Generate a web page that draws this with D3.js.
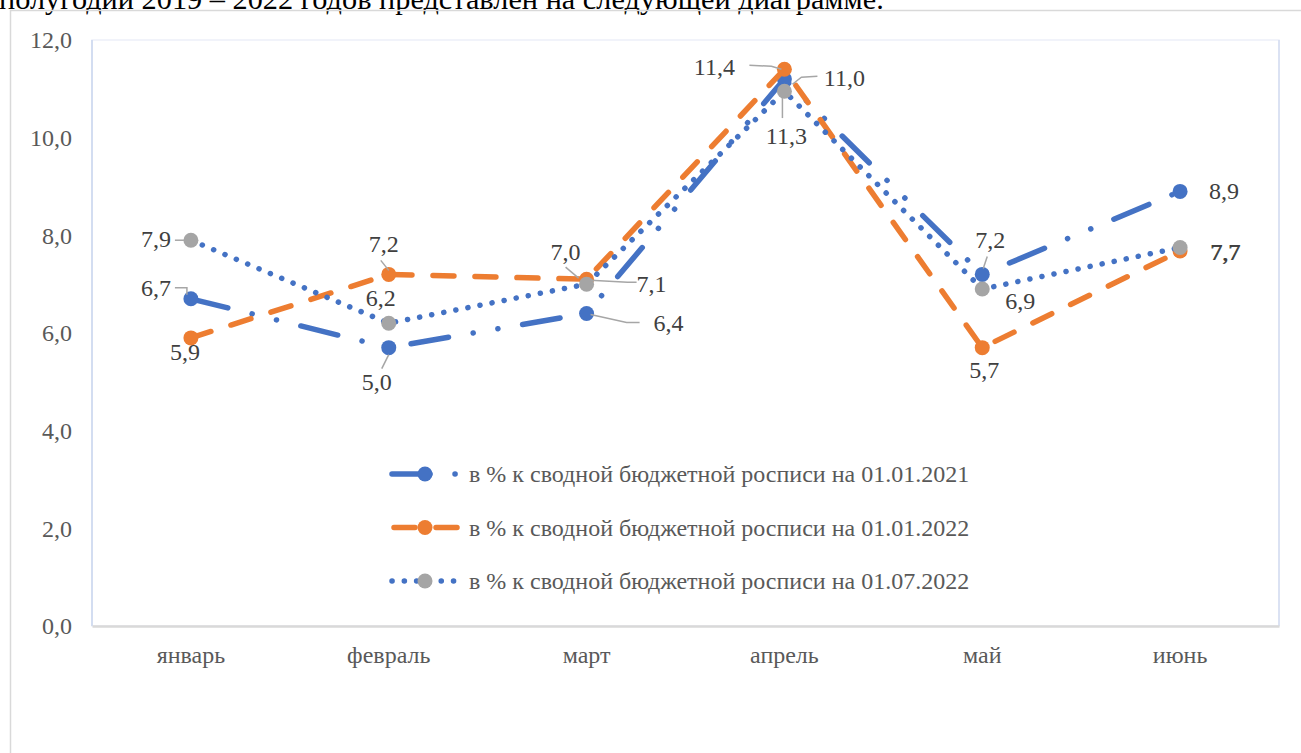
<!DOCTYPE html>
<html><head><meta charset="utf-8">
<script src="https://cdn.jsdelivr.net/npm/d3@7"></script>
<style>
html,body{margin:0;padding:0;background:#fff;overflow:hidden;}
svg text{font-family:"Liberation Serif","Times New Roman",serif;}
</style></head>
<body>
<svg id="chart" width="1301" height="753"></svg>
<script>
// ---------- data ----------
const months = ["январь","февраль","март","апрель","май","июнь"];
const seriesNames = [
  "в % к сводной бюджетной росписи на 01.01.2021",
  "в % к сводной бюджетной росписи на 01.01.2022",
  "в % к сводной бюджетной росписи на 01.07.2022"
];
const s1Values = [6.7, 5.7, 6.4, 11.2, 7.2, 8.9];
const s1Labels = ["6,7","5,0","6,4","11,3","7,2","8,9"];
const s2Values = [5.9, 7.2, 7.1, 11.4, 5.7, 7.68];
const s2Labels = ["5,9","7,2","7,1","11,4","5,7","7,7"];
const s3Values = [7.9, 6.2, 7.0, 10.95, 6.9, 7.75];
const s3Labels = ["7,9","6,2","7,0","11,0","6,9","7,7"];
const yTicks = [0, 2, 4, 6, 8, 10, 12];
const yTickLabels = ["0,0","2,0","4,0","6,0","8,0","10,0","12,0"];
const introText = "полугодии 2019 – 2022 годов представлен на следующей диаграмме.";

// ---------- layout / style ----------
const W = 1301, H = 753;
const plot = {left: 92, right: 1279, top: 40, bottom: 626};
const FS = 24;
const styles = [
  {line: "#4472C4", marker: "#4472C4", dash: "38,25,0.1,25,0.1,25", width: 5.5},
  {line: "#ED7D31", marker: "#ED7D31", dash: "21,21", width: 5.5},
  {line: "#4472C4", marker: "#A5A5A5", dash: "0.1,12.2", width: 5.5}
];
// label placement relative to point: [dx, dy, leader points]
const labelLayout = [
  [[-35,-11,[[-16,-11],[-4,-11],[-4,-4]]],[-12,34,[[-7,21],[0,7]]],[82,10,[[4,1],[40,9],[53,9]]],
   [2,57,[[-2,19],[-2,39]]],[8,-34,[[5,-18],[1,-6]]],[44,0,null]],
  [[-6,14,null],[-5,-30,[[-8,-14],[0,-4]]],[65,5,[[4,1],[41,3],[50,3]]],
   [-70,-2,[[-35,-4],[-13,-3],[-3,0]]],[2,22,null],[45,1,null]],
  [[-35,-1,[[-16,0],[-7,0]]],[-8,-25,null],[-21,-32,[[-21,-17],[-8,-6]]],
   [60,-13,[[8,-7],[17,-14],[33,-15]]],[38,12,null],[45.7,4.4,null]]
];

const svg = d3.select("#chart");
svg.append("rect").attr("width", W).attr("height", H).attr("fill", "#fff");

// intro text (cut off at top, as in the source)
svg.append("text").attr("x", -1).attr("y", 9)
  .attr("font-size", 30.3).attr("fill", "#000").text(introText);

// outer frame
svg.append("path").attr("d", `M10.5,${H} V10.5 H${W}`)
  .attr("fill", "none").attr("stroke", "#d9d9d9").attr("stroke-width", 1.5);

// scales
const x = d3.scaleBand().domain(months).range([plot.left, plot.right]).padding(0);
const y = d3.scaleLinear().domain([0, 12]).range([plot.bottom, plot.top]);
const cx = m => x(m) + x.bandwidth() / 2;

// plot area border
svg.append("rect").attr("x", plot.left).attr("y", plot.top)
  .attr("width", plot.right - plot.left).attr("height", plot.bottom - plot.top)
  .attr("fill", "none").attr("stroke", "#edf0f9").attr("stroke-width", 1.5);
svg.append("line").attr("x1", plot.left).attr("x2", plot.left)
  .attr("y1", plot.top).attr("y2", plot.bottom).attr("stroke", "#c9d6ee").attr("stroke-width", 1.5);
svg.append("line").attr("x1", plot.right).attr("x2", plot.right)
  .attr("y1", plot.top).attr("y2", plot.bottom).attr("stroke", "#d3ddf0").attr("stroke-width", 1.5);

// y axis
const yAxis = d3.axisLeft(y).tickValues(yTicks)
  .tickFormat((d, i) => yTickLabels[i]).tickSize(0).tickPadding(20);
const gy = svg.append("g").attr("transform", `translate(${plot.left},0)`).call(yAxis);
gy.select(".domain").remove();
gy.selectAll("text").attr("font-size", FS).attr("fill", "#595959")
  .attr("font-family", "Liberation Serif, Times New Roman, serif");

// x axis
const xAxis = d3.axisBottom(x).tickSize(0).tickPadding(20);
const gx = svg.append("g").attr("transform", `translate(0,${plot.bottom})`).call(xAxis);
gx.select(".domain").attr("stroke", "#d9d9d9").attr("stroke-width", 2.5);
gx.selectAll("text").attr("font-size", FS).attr("fill", "#595959")
  .attr("font-family", "Liberation Serif, Times New Roman, serif");

// series
const allValues = [s1Values, s2Values, s3Values];
const allLabels = [s1Labels, s2Labels, s3Labels];
const line = d3.line().x(d => cx(d.m)).y(d => y(d.v));

allValues.forEach((vals, si) => {
  const st = styles[si];
  const pts = vals.map((v, i) => ({m: months[i], v}));
  svg.append("path").datum(pts).attr("d", line)
    .attr("fill", "none").attr("stroke", st.line).attr("stroke-width", st.width)
    .attr("stroke-dasharray", st.dash).attr("stroke-linecap", "round").attr("stroke-linejoin", "round");
  svg.append("g").selectAll("circle").data(pts).join("circle")
    .attr("cx", d => cx(d.m)).attr("cy", d => y(d.v)).attr("r", 7.5)
    .attr("fill", st.marker);
});

// data labels
allValues.forEach((vals, si) => {
  vals.forEach((v, i) => {
    const px = cx(months[i]), py = y(v);
    const [dx, dy, leader] = labelLayout[si][i];
    if (leader) {
      svg.append("path").attr("d", d3.line()(leader.map(p => [px + p[0], py + p[1]])))
        .attr("fill", "none").attr("stroke", "#a6a6a6").attr("stroke-width", 1.5);
    }
    svg.append("text").attr("x", px + dx).attr("y", py + dy)
      .attr("text-anchor", "middle").attr("dominant-baseline", "central")
      .attr("font-size", FS).attr("fill", "#404040").text(allLabels[si][i]);
  });
});

// legend
const legend = svg.append("g").attr("transform", "translate(392,474)");
seriesNames.forEach((name, si) => {
  const st = styles[si];
  const g = legend.append("g").attr("transform", `translate(0,${si * 53.5})`);
  const offs = [0, -2, 0][si];
  g.append("line").attr("x1", 0).attr("x2", 66).attr("y1", 0).attr("y2", 0)
    .attr("stroke", st.line).attr("stroke-width", st.width)
    .attr("stroke-dasharray", st.dash).attr("stroke-dashoffset", offs).attr("stroke-linecap", "round");
  g.append("circle").attr("cx", 33).attr("cy", 0).attr("r", 7.5).attr("fill", st.marker);
  g.append("text").attr("x", 77).attr("y", 0).attr("dominant-baseline", "central")
    .attr("font-size", FS).attr("fill", "#595959").text(name);
});
</script>
</body></html>
